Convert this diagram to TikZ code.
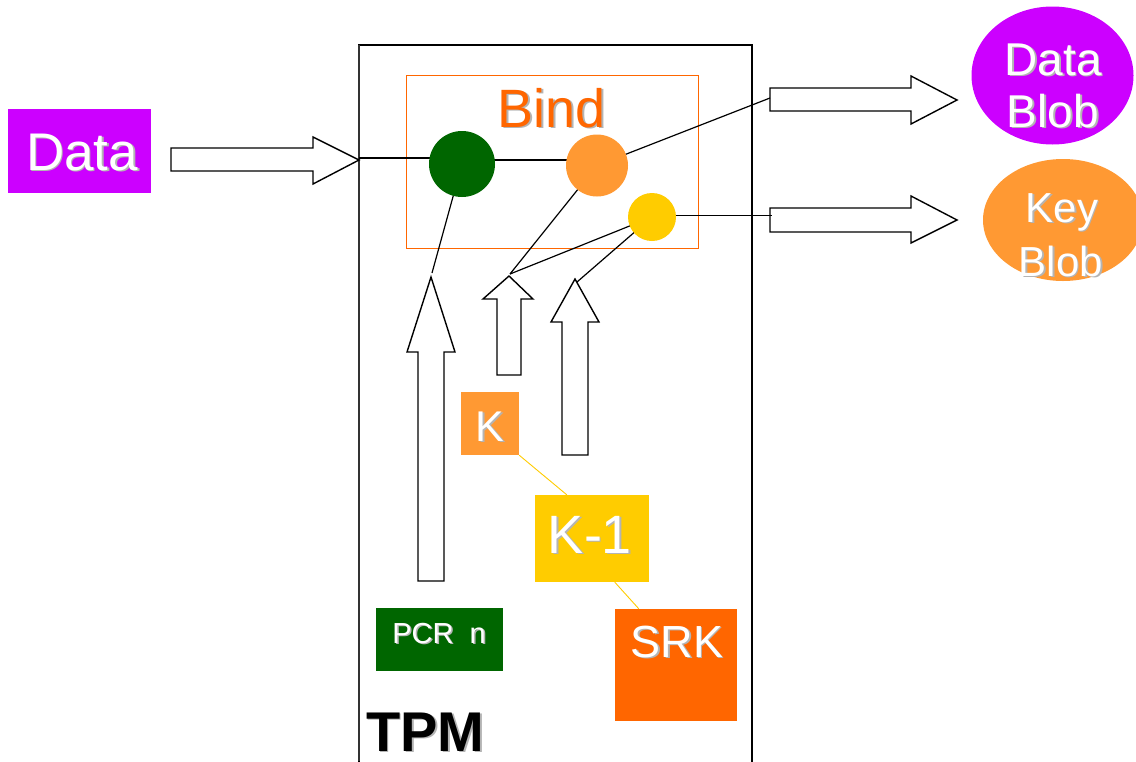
\documentclass[tikz,border=0pt]{standalone}
\usepackage{fontspec}
\usetikzlibrary{shapes.geometric}
\setmainfont{Liberation Sans}
\definecolor{magentaP}{HTML}{CC00FF}
\definecolor{pcrgreen}{HTML}{006600}
\definecolor{lightorange}{HTML}{FF9933}
\definecolor{deeporange}{HTML}{FF6600}
\definecolor{keyyellow}{HTML}{FFCC00}
\definecolor{shadowgray}{HTML}{B4B4B4}
\definecolor{framegray}{HTML}{333333}
% text with a soft drop shadow
\newcommand\shd[2][white]{\leavevmode\rlap{\kern1.6pt\raisebox{-1.6pt}{\textcolor{shadowgray}{#2}}}\textcolor{#1}{#2}}
\newcommand\fs[1]{\fontsize{#1}{#1}\selectfont}
\tikzset{
  box/.style={rectangle, inner sep=0pt, draw=none},
  dot/.style={circle, inner sep=0pt, draw=none},
  lbl/.style={anchor=base, inner sep=0pt},
  blockarrow/.style={draw=black, fill=white, line width=1.4pt, line join=miter},
  wire/.style={draw=black, line width=1.2pt},
  keylink/.style={draw=keyyellow, line width=0.9pt},
}
\begin{document}
\begin{tikzpicture}[x=1pt,y=-1pt]
\useasboundingbox (0,0) rectangle (1136,761);
\fill[white] (0,0) rectangle (1136,761);

% TPM enclosure (open at the bottom)
\draw[line width=1.3pt] (359,775) -- (359,45) -- (752,45) -- (752,775);
\draw[framegray, line width=2pt] (358.5,761) -- (358.5,45);

% Bind frame
\node[box, draw=deeporange, line width=1pt, minimum width=292pt, minimum height=173pt] (bind) at (552,161.5) {};
\node[lbl] (bindT) at (552,127) {\fs{54}\shd[deeporange]{Bind}};

% Data source
\node[box, fill=magentaP, minimum width=143pt, minimum height=84pt] (data) at (79.5,151) {};
\node[lbl] (dataT) at (82,170) {\fs{53}\shd{Data}};

% block arrows
\path[blockarrow] (171,148) -- (313,148) -- (313,137) -- (359,160) -- (313,184) -- (313,171) -- (171,171) -- cycle;
\path[blockarrow] (770,88) -- (911,88) -- (911,76) -- (957,100) -- (911,124) -- (911,111) -- (770,111) -- cycle;
\path[blockarrow] (770,208) -- (911,208) -- (911,196) -- (957,220) -- (911,243) -- (911,232) -- (770,232) -- cycle;
\path[blockarrow] (418,581) -- (418,352) -- (407,352) -- (431,277) -- (455,352) -- (444,352) -- (444,581) -- cycle;
\path[blockarrow] (497,375) -- (497,299) -- (483,299) -- (509,276) -- (533,299) -- (521,299) -- (521,375) -- cycle;
\path[blockarrow] (562,455) -- (562,322) -- (551,322) -- (575,279) -- (599,322) -- (588,322) -- (588,455) -- cycle;

% connector end points at the arrows
\coordinate (dataTip) at (359,158);
\coordinate (blobIn) at (770,98);
\coordinate (keyIn) at (772,215.5);
\coordinate (pcrTip) at (432,273);
\coordinate (kTip) at (510,274);
\coordinate (srkTip) at (577,282);

% Bind nodes
\node[dot, minimum size=66pt] (green) at (462,164) {};
\node[dot, minimum size=62pt] (orange) at (597,165.5) {};
\node[dot, minimum size=48pt] (yellow) at (652,217) {};

% wires (drawn under the discs)
\draw[wire] (dataTip) -- (dataTip -| green.center);
\draw[wire] ([yshift=4pt]green.center) -- ([yshift=4pt]green.center -| orange.center);
\draw[wire] (orange.center) -- (blobIn);
\draw[wire] (keyIn -| yellow.center) -- (keyIn);
\draw[wire] (green.center) -- (pcrTip);
\draw[wire] (orange.center) -- (kTip);
\draw[wire] (yellow.center) -- (kTip);
\draw[wire] (yellow.center) -- (srkTip);

\fill[pcrgreen] (green) circle (33pt);
\fill[lightorange] (orange) circle (31pt);
\fill[keyyellow] (yellow) circle (24pt);

% outputs
\node[ellipse, fill=magentaP, minimum width=162pt, minimum height=138pt, inner sep=0pt] (dblob) at (1052.5,75.5) {};
\node[lbl] (dblobT1) at (1053,75) {\fs{46}\shd{Data}};
\node[lbl] (dblobT2) at (1053,127) {\fs{46}\shd{Blob}};
\node[ellipse, fill=lightorange, minimum width=160pt, minimum height=122pt, inner sep=0pt] (kblob) at (1063,220) {};
\node[lbl] (kblobT1) at (1062,222) {\fs{42}\shd{Key}};
\node[lbl] (kblobT2) at (1061,276) {\fs{42}\shd{Blob}};

% key hierarchy
\node[box, fill=lightorange, minimum width=58pt, minimum height=63pt] (kbox) at (490,423.5) {};
\node[box, fill=keyyellow, minimum width=114pt, minimum height=87pt] (km1) at (592,538.5) {};
\node[box, fill=deeporange, minimum width=122pt, minimum height=112pt] (srk) at (676,665) {};
\draw[keylink] (kbox.south east) -- ([xshift=32pt]km1.north west);
\draw[keylink] ([xshift=80pt]km1.south west) -- ([xshift=24pt]srk.north west);
\node[lbl] (kT) at (490,441) {\fs{43}\shd{K}};
\node[lbl] (km1T) at (590,553) {\fs{54}\shd{K-1}};
\node[lbl] (srkT) at (677,657) {\fs{45}\shd{SRK}};

% PCR register
\node[box, fill=pcrgreen, minimum width=127pt, minimum height=63pt] (pcr) at (439.5,639.5) {};
\node[lbl] (pcrT) at (439,643) {\fs{29}\shd{PCR\ \ n}};

% TPM caption
\node[anchor=base west, inner sep=0pt] (tpmT) at (366,751) {\fs{56}\bfseries\shd[black]{TPM}};
\end{tikzpicture}
\end{document}
